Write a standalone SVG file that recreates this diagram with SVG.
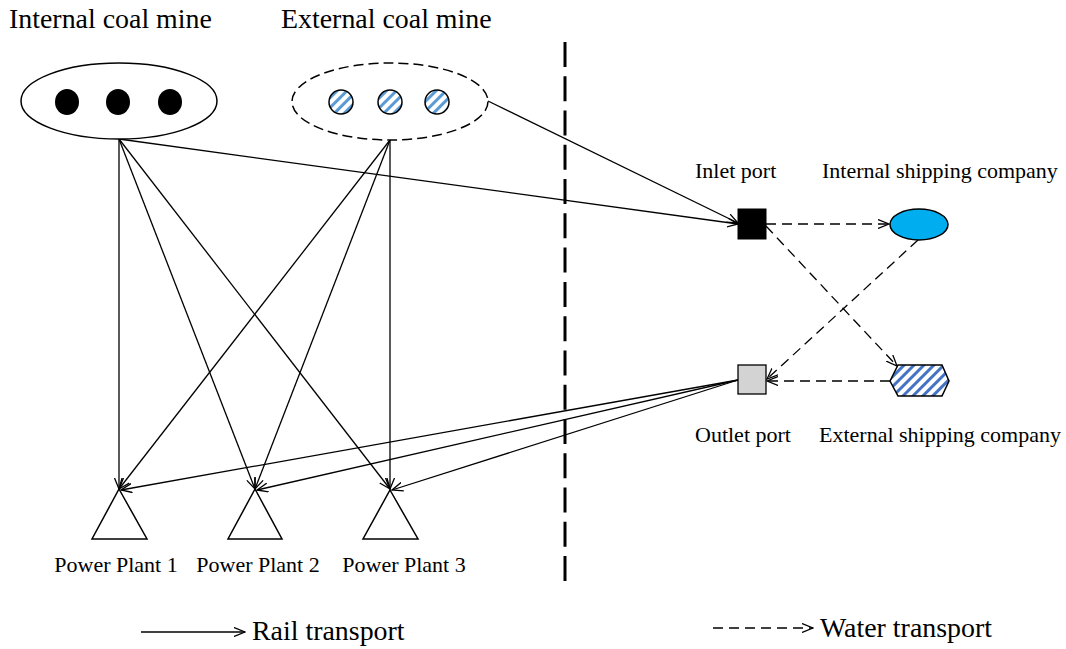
<svg xmlns="http://www.w3.org/2000/svg" width="1066" height="649" viewBox="0 0 1066 649">
  <defs>
    <style>
      .t { font-family: "Liberation Serif", "Times New Roman", serif; fill: #000; }
      .big { font-size: 27.9px; }
      .label { font-size: 22px; }
      .rail { fill: none; stroke: #000; stroke-width: 1.3; marker-end: url(#arrow); }
      .water { fill: none; stroke: #000; stroke-width: 1.3; stroke-dasharray: 10 6; marker-end: url(#arrow); }
      .shape { stroke: #000; stroke-width: 1.5; }
    </style>
    <marker id="arrow" viewBox="0 0 12 10" refX="11" refY="5" markerWidth="12" markerHeight="10" markerUnits="userSpaceOnUse" orient="auto">
      <path d="M0,0.5 L11,5 L0,9.5" fill="none" stroke="#000" stroke-width="1.3"/>
    </marker>
    <pattern id="stripesLight" width="7" height="7" patternUnits="userSpaceOnUse" patternTransform="rotate(45)">
      <rect width="7" height="7" fill="#fff"/>
      <rect width="3" height="7" fill="#5b9bd5"/>
    </pattern>
    <pattern id="stripesDark" width="7" height="7" patternUnits="userSpaceOnUse" patternTransform="rotate(45)">
      <rect width="7" height="7" fill="#fff"/>
      <rect width="3" height="7" fill="#4472c4"/>
    </pattern>
  </defs>

  <rect width="1066" height="649" fill="#fff"/>

  <!-- divider between land and water sides -->
  <line x1="565" y1="42" x2="565" y2="582" stroke="#000" stroke-width="3" stroke-dasharray="25 9.27"/>

  <g id="connectors">
    <!-- rail: internal mine -->
    <line class="rail" x1="119" y1="139" x2="119" y2="489"/>
    <line class="rail" x1="119" y1="139" x2="255" y2="489"/>
    <line class="rail" x1="119" y1="139" x2="390" y2="489"/>
    <line class="rail" x1="119" y1="139" x2="738" y2="224"/>
    <!-- rail: external mine -->
    <line class="rail" x1="390" y1="140" x2="119" y2="489"/>
    <line class="rail" x1="390" y1="140" x2="255" y2="489"/>
    <line class="rail" x1="390" y1="140" x2="390" y2="489"/>
    <line class="rail" x1="488" y1="101" x2="738" y2="223"/>
    <!-- rail: outlet port -->
    <line class="rail" x1="738" y1="380" x2="121" y2="490"/>
    <line class="rail" x1="738" y1="380" x2="257" y2="490"/>
    <line class="rail" x1="738" y1="380" x2="392" y2="490"/>
    <!-- water -->
    <line class="water" x1="766" y1="224" x2="889" y2="224"/>
    <line class="water" x1="766" y1="226" x2="897" y2="366"/>
    <line class="water" x1="918" y1="240" x2="767" y2="379"/>
    <line class="water" x1="890" y1="381" x2="767" y2="381"/>
  </g>

  <g id="internal-coal-mine">
    <text class="t big" x="9" y="28">Internal coal mine</text>
    <ellipse class="shape" cx="119" cy="101" rx="98" ry="38" fill="#fff"/>
    <ellipse cx="67" cy="102" rx="12" ry="13" fill="#000"/>
    <ellipse cx="118" cy="102" rx="12" ry="13" fill="#000"/>
    <ellipse cx="170" cy="102" rx="12" ry="13" fill="#000"/>
  </g>

  <g id="external-coal-mine">
    <text class="t big" x="281" y="28">External coal mine</text>
    <ellipse class="shape" cx="390" cy="101.5" rx="98" ry="38.5" fill="#fff" stroke-dasharray="10 5"/>
    <circle class="shape" cx="341" cy="102" r="12" fill="url(#stripesLight)" stroke-width="1.3"/>
    <circle class="shape" cx="390" cy="102" r="12" fill="url(#stripesLight)" stroke-width="1.3"/>
    <circle class="shape" cx="437" cy="102" r="12" fill="url(#stripesLight)" stroke-width="1.3"/>
  </g>

  <g id="inlet-port">
    <text class="t label" x="695" y="178">Inlet port</text>
    <rect x="738" y="209" width="28" height="30" fill="#000" stroke="#000" stroke-width="1"/>
  </g>

  <g id="internal-shipping-company">
    <text class="t label" x="822" y="178">Internal shipping company</text>
    <ellipse class="shape" cx="919" cy="224.5" rx="29" ry="15.5" fill="#00aeef" stroke-width="1.3"/>
  </g>

  <g id="outlet-port">
    <text class="t label" x="695" y="442">Outlet port</text>
    <rect x="738" y="365" width="28" height="29" fill="#d3d3d3" stroke="#000" stroke-width="1.3"/>
  </g>

  <g id="external-shipping-company">
    <text class="t label" x="819" y="442">External shipping company</text>
    <polygon class="shape" points="890,381 898,365 942,365 949,381 942,396 898,396" fill="url(#stripesDark)" stroke-width="1.3"/>
  </g>

  <g id="power-plant-1">
    <polygon class="shape" points="119,489 147,539 92,539" fill="#fff" stroke-width="1.3"/>
    <text class="t label" x="116" y="572" text-anchor="middle">Power Plant 1</text>
  </g>
  <g id="power-plant-2">
    <polygon class="shape" points="255,489 282,539 228,539" fill="#fff" stroke-width="1.3"/>
    <text class="t label" x="258" y="572" text-anchor="middle">Power Plant 2</text>
  </g>
  <g id="power-plant-3">
    <polygon class="shape" points="390,490 418,539 363,539" fill="#fff" stroke-width="1.3"/>
    <text class="t label" x="404" y="572" text-anchor="middle">Power Plant 3</text>
  </g>

  <g id="legend">
    <line class="rail" x1="141" y1="632" x2="245" y2="632"/>
    <text class="t big" x="252" y="640">Rail transport</text>
    <line class="water" x1="713" y1="628" x2="813" y2="628" stroke-dasharray="8 6"/>
    <text class="t big" x="820" y="637">Water transport</text>
  </g>
</svg>
